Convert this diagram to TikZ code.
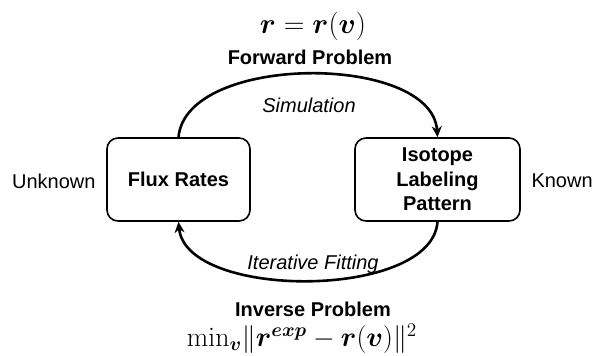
\documentclass[tikz,border=0pt]{standalone}
\usepackage{graphicx}
\usepackage{amsmath,amssymb,bm}
\usepackage[no-math]{fontspec}
\setmainfont{Liberation Sans}
\usetikzlibrary{arrows.meta}
\tikzset{
  box/.style={draw, line width=1.6pt, rounded corners=11pt, align=center, font=\fontsize{20}{24.5}\selectfont\bfseries},
  side/.style={font=\fontsize{20}{24}\selectfont},
  lab/.style={font=\fontsize{20}{24}\selectfont\itshape},
  head/.style={font=\fontsize{20}{24}\selectfont\bfseries, inner sep=0pt},
  eq/.style={font=\fontsize{20}{24}\selectfont, inner sep=0pt},
  arc/.style={line width=2.6pt, -{Stealth[length=11pt,width=10pt]}}
}
\begin{document}
\begin{tikzpicture}[x=1pt,y=-1pt]
\useasboundingbox (0,0) rectangle (592,356);
\node[box, minimum width=143pt, minimum height=83pt] (flux) at (178.5,179.5) {Flux Rates};
\node[box, minimum width=165pt, minimum height=83pt] (iso) at (437.5,179.5) {Isotope\\Labeling\\Pattern};
\node[side, anchor=east] (unk) at (99,181) {Unknown};
\node[side, anchor=west] (kn) at (528,181) {Known};
\node[lab] (sim) at (309,105) {Simulation};
\node[lab] (fit) at (313,264) {Iterative Fitting};
\node[head] (fwd) at (310,57) {Forward Problem};
\node[head] (inv) at (313,309) {Inverse Problem};
\node[eq] (eq2) at (302,339) {\scalebox{1.34}{$\min_{\bm{v}}\lVert\bm{r}^{\bm{exp}}-\bm{r}(\bm{v})\rVert^2$}};
\node[eq] (eq1) at (313,26) {\scalebox{1.38}{$\bm{r}=\bm{r}(\bm{v})$}};
\draw[arc] (flux.north) .. controls (186,53) and (432,53) .. (iso.north);
\draw[arc] (iso.south) .. controls (432,300) and (186,300) .. (flux.south);
\end{tikzpicture}
\end{document}
